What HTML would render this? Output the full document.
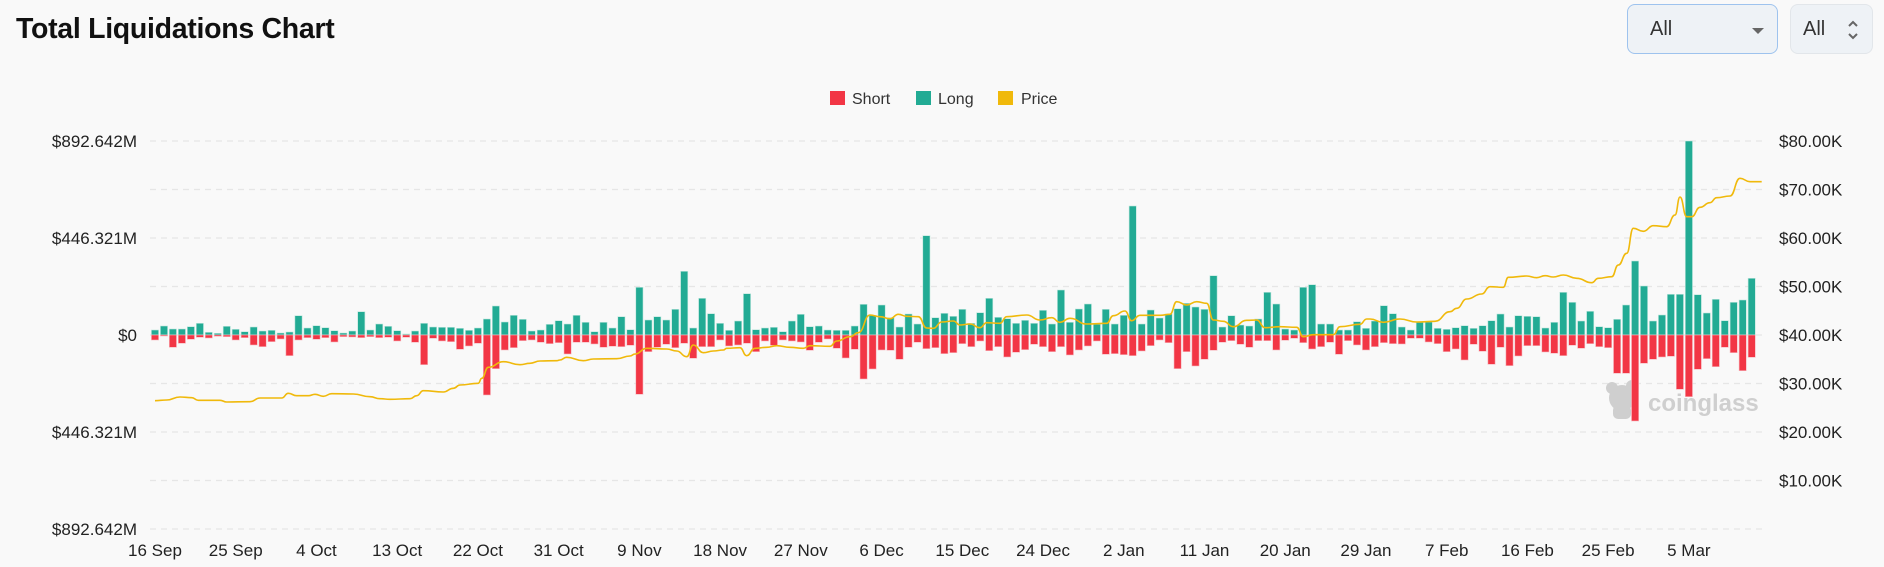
<!DOCTYPE html>
<html><head><meta charset="utf-8">
<style>
html,body{margin:0;padding:0;background:#f9f9f9;}
body{width:1884px;height:567px;overflow:hidden;position:relative;font-family:"Liberation Sans",sans-serif;}
.title{position:absolute;left:16px;top:13px;font-size:28.5px;font-weight:bold;color:#111;letter-spacing:-0.3px;}
.dd{position:absolute;top:4px;height:50px;border-radius:8px;background:#eef2f6;box-sizing:border-box;font-size:20px;color:#333;}
</style></head><body>
<div class="title">Total Liquidations Chart</div>
<div class="dd" style="left:1627px;width:151px;border:1px solid #9ec3ee;">
 <span style="position:absolute;left:22px;top:13px;">All</span>
 <span style="position:absolute;left:124px;top:23px;width:0;height:0;border-left:6px solid transparent;border-right:6px solid transparent;border-top:6px solid #666;"></span>
</div>
<div class="dd" style="left:1790px;width:83px;border:1px solid #e2e6ea;">
 <span style="position:absolute;left:12px;top:13px;">All</span>
 <svg style="position:absolute;left:55px;top:14px" width="14" height="22"><path d="M3 7 L7 3 L11 7 M3 15 L7 19 L11 15" stroke="#666" stroke-width="2" fill="none"/></svg>
</div>
<svg id="c" width="1884" height="567" style="position:absolute;left:0;top:0" xmlns="http://www.w3.org/2000/svg"></svg>
<script>
var L=[600,588,597,597,590,580,607,610,589,598,605,591,603,601,609,606,557,594,587,593,602,609,603,545,600,582,589,602,612,603,580,591,592,592,595,601,594,567,528,576,556,568,603,600,583,572,582,556,577,605,577,594,560,599,472,570,560,570,538,424,594,505,551,580,601,573,491,599,594,592,605,573,553,590,588,600,601,601,588,523,556,525,563,591,552,582,317,563,550,559,538,580,548,505,562,566,580,571,580,541,582,480,577,537,522,583,538,582,556,228,582,540,564,552,536,520,531,538,437,591,557,585,588,567,487,522,597,600,472,464,582,582,600,600,575,595,573,527,551,591,600,577,576,595,598,593,587,595,587,572,552,591,557,559,560,594,577,487,517,573,544,590,593,568,525,393,468,573,555,493,493,33,494,549,508,572,517,510,445];
var S=[630,618,652,640,628,622,624,619,620,630,623,645,650,635,627,677,630,623,628,623,636,620,621,623,620,623,622,633,622,637,704,625,633,635,658,648,640,795,716,660,653,632,630,637,641,638,672,637,637,642,652,649,650,646,793,665,652,643,653,640,685,650,650,630,648,645,640,665,633,646,630,633,636,661,637,627,655,684,658,747,717,660,661,688,652,637,656,653,671,668,641,650,633,662,650,681,667,659,643,650,665,650,675,660,648,633,673,671,674,677,663,647,630,638,716,665,708,688,661,637,632,643,652,632,632,660,631,625,638,657,650,637,673,632,645,660,650,638,641,642,625,625,636,641,665,657,690,643,664,703,652,707,678,647,647,666,670,677,646,655,641,650,653,730,730,873,700,688,681,679,778,800,718,686,710,652,668,722,682];
var P=[[140,[[45,812],[80,810],[120,801],[155,803],[175,811],[240,811],[260,816],[330,815],[360,804],[425,804],[445,790],[470,797],[505,797],[525,793],[550,799],[575,791],[640,792],[690,800],[720,806],[750,808],[810,806],[830,797],[850,782],[910,786],[940,775],[960,765],[1015,760],[1025,745],[1045,712],[1090,695],[1140,704],[1170,700],[1200,693],[1250,692]]],
[550,[[30,690],[50,682],[100,692],[130,687],[200,686],[240,678],[255,672],[290,655],[350,657],[380,663],[410,680],[430,645],[460,668],[490,663],[520,660],[530,655],[570,653],[590,677],[615,655],[650,652],[680,647],[720,652],[760,655],[780,647],[840,649],[860,633],[900,620],[925,608],[960,555],[990,560],[1020,566],[1045,553],[1070,559],[1105,560],[1130,594],[1150,595],[1175,576],[1210,573],[1230,585]]],
[960,[[30,582],[60,593],[80,578],[120,580],[140,560],[200,555],[240,570],[275,563],[300,577],[330,565],[380,582],[440,580],[460,557],[495,543],[515,572],[540,556],[600,556],[630,553],[650,515],[680,525],[710,515],[740,520],[760,570],[790,574],[820,590],[860,571],[890,570],[915,593],[960,590],[1010,592],[1030,620],[1060,614],[1120,614],[1140,590],[1200,583],[1220,567]]],
[1370,[[0,567],[40,577],[90,567],[140,576],[195,574],[240,545],[260,535],[290,507],[335,492],[360,470],[400,472],[415,442],[470,438],[500,443],[525,437],[550,441],[580,435],[620,445],[665,458],[685,445],[725,440],[745,405],[770,370],[790,295],[820,304],[850,287],[890,290],[915,255],[930,201],[950,260],[965,260],[990,232],[1020,218],[1040,203],[1080,198],[1110,145],[1140,155],[1175,155]]]];
var s='';
var gy=[141,189.5,238,286.5,335,383.5,432,480.5,529];
gy.forEach(function(y){s+='<line x1="150" x2="1765" y1="'+y+'" y2="'+y+'" stroke="#e6e6e6" stroke-width="1.3" stroke-dasharray="6,5"/>';});
var ll=['$892.642M','','$446.321M','','$0','','$446.321M','','$892.642M'];
var rl=['$80.00K','$70.00K','$60.00K','$50.00K','$40.00K','$30.00K','$20.00K','$10.00K',''];
gy.forEach(function(y,i){if(ll[i])s+='<text x="137" y="'+(y+6)+'" text-anchor="end" font-size="17" fill="#222">'+ll[i]+'</text>';
 if(rl[i])s+='<text x="1779" y="'+(y+6)+'" font-size="17" fill="#222">'+rl[i]+'</text>';});
var xl=['16 Sep','25 Sep','4 Oct','13 Oct','22 Oct','31 Oct','9 Nov','18 Nov','27 Nov','6 Dec','15 Dec','24 Dec','2 Jan','11 Jan','20 Jan','29 Jan','7 Feb','16 Feb','25 Feb','5 Mar'];
xl.forEach(function(t,i){s+='<text x="'+(155+i*9*8.97)+'" y="556" text-anchor="middle" font-size="17" fill="#222">'+t+'</text>';});
s+='<g fill="#cfcfcf"><circle cx="1622" cy="398" r="13"/><circle cx="1612" cy="388" r="6"/><circle cx="1632" cy="386" r="6"/><rect x="1613" y="405" width="18" height="14" rx="5"/></g>';
s+='<text x="1648" y="411" font-size="24" font-weight="bold" fill="#cfcfcf">coinglass</text>';
for(var k=0;k<L.length;k++){var x=155+k*8.97-3.6;var hl=(615-L[k])/3,hs=(S[k]-615)/3;
 s+='<rect x="'+x.toFixed(1)+'" y="'+(335-hl).toFixed(1)+'" width="7.2" height="'+hl.toFixed(1)+'" fill="#22ab94" stroke="#bfe6dd" stroke-width="0.6"/>';
 s+='<rect x="'+x.toFixed(1)+'" y="335" width="7.2" height="'+hs.toFixed(1)+'" fill="#f23645" stroke="#f7b8be" stroke-width="0.6"/>';}
var pts=[];P.forEach(function(seg){seg[1].forEach(function(p){pts.push([seg[0]+p[0]/3,130+p[1]/3]);});});
var d='M'+pts[0][0].toFixed(1)+' '+pts[0][1].toFixed(1);
for(var i=1;i<pts.length;i++){var p0=pts[i-1],p1=pts[i],mx=(p0[0]+p1[0])/2;d+=' C'+mx.toFixed(1)+' '+p0[1].toFixed(1)+' '+mx.toFixed(1)+' '+p1[1].toFixed(1)+' '+p1[0].toFixed(1)+' '+p1[1].toFixed(1);}
s+='<path d="'+d+'" fill="none" stroke="#f0b90b" stroke-width="1.6"/>';
s+='<rect x="830" y="91" width="15" height="14" fill="#f23645"/><text x="852" y="104" font-size="16" fill="#333">Short</text>';
s+='<rect x="916" y="91" width="15" height="14" fill="#22ab94"/><text x="938" y="104" font-size="16" fill="#333">Long</text>';
s+='<rect x="998" y="91" width="15" height="14" fill="#f0b90b"/><text x="1021" y="104" font-size="16" fill="#333">Price</text>';
document.getElementById('c').innerHTML=s;
</script>
</body></html>
